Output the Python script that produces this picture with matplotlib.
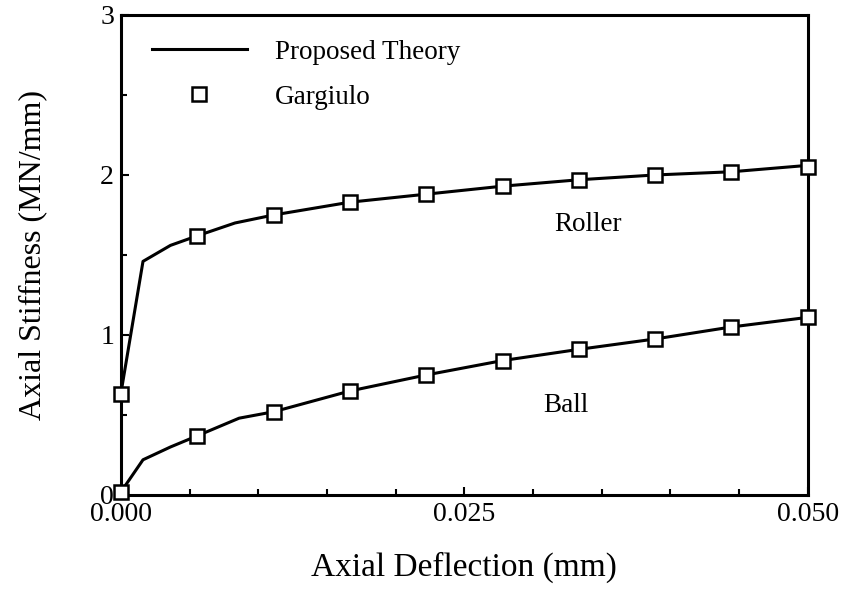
import matplotlib.pyplot as plt
import numpy as np
from matplotlib.lines import Line2D
from matplotlib.ticker import MultipleLocator

plt.rcParams["font.family"] = ["Liberation Serif", "DejaVu Serif"]

# Gargiulo data points (open squares)
defl_pts = [0.0, 0.00556, 0.01111, 0.01667, 0.02222, 0.02778, 0.03333, 0.03889, 0.04444, 0.05]
roller_pts = [0.63, 1.62, 1.75, 1.83, 1.88, 1.93, 1.97, 2.00, 2.02, 2.05]
ball_pts = [0.02, 0.37, 0.52, 0.65, 0.75, 0.84, 0.91, 0.975, 1.05, 1.11]

# proposed theory curves
roller_x = [0.0, 0.0, 0.0016, 0.0036, 0.00556, 0.0083, 0.01111, 0.01667, 0.02222,
            0.02778, 0.03333, 0.03889, 0.04444, 0.05]
roller_y = [0.0, 0.64, 1.46, 1.56, 1.62, 1.70, 1.75, 1.83, 1.88, 1.93, 1.97, 2.00, 2.02, 2.06]
ball_x = [0.0, 0.0016, 0.0036, 0.00556, 0.0086, 0.01111, 0.01667, 0.02222, 0.02778,
          0.03333, 0.03889, 0.04444, 0.05]
ball_y = [0.02, 0.22, 0.30, 0.37, 0.48, 0.52, 0.65, 0.75, 0.84, 0.91, 0.975, 1.05, 1.11]

fig = plt.figure(figsize=(8.44, 5.92), dpi=100)
ax = fig.add_axes([0.1434, 0.1639, 0.8136, 0.8108])

lw = 2.2
ax.plot(roller_x, roller_y, color="black", lw=lw, zorder=2)
ax.plot(ball_x, ball_y, color="black", lw=lw, zorder=2)
mk = dict(ls="none", marker="s", ms=10, mfc="white", mec="black", mew=1.8, zorder=3, clip_on=False)
ax.plot(defl_pts, roller_pts, **mk)
ax.plot(defl_pts, ball_pts, **mk)

ax.text(0.034, 1.69, "Roller", fontsize=19.5, ha="center", va="center")
ax.text(0.0324, 0.56, "Ball", fontsize=19.5, ha="center", va="center")

ax.set_xlim(0, 0.05)
ax.set_ylim(0, 3)
ax.set_xticks([0.0, 0.025, 0.05])
ax.set_xticklabels(["0.000", "0.025", "0.050"])
ax.set_yticks([0, 1, 2, 3])
ax.xaxis.set_minor_locator(MultipleLocator(0.005))
ax.yaxis.set_minor_locator(MultipleLocator(0.5))
ax.tick_params(which="both", direction="in", labelsize=20, width=1.5, top=False, right=False)
ax.tick_params(which="major", length=6, pad=5)
ax.tick_params(which="minor", length=4)
for s in ax.spines.values():
    s.set_linewidth(2.2)

ax.set_xlabel("Axial Deflection (mm)", fontsize=24, labelpad=18)
ax.set_ylabel("Axial Stiffness (MN/mm)", fontsize=23, labelpad=38)

handles = [
    Line2D([], [], color="black", lw=lw),
    Line2D([], [], ls="none", marker="s", ms=10, mfc="white", mec="black", mew=1.8),
]
ax.legend(handles, ["Proposed Theory", "Gargiulo"], loc="upper left", frameon=False,
          fontsize=19.5, handlelength=3.5, handletextpad=1.05, labelspacing=0.74,
          bbox_to_anchor=(0.045, 0.948), borderaxespad=0, borderpad=0, numpoints=1)

fig.savefig("out.png", dpi=100)
